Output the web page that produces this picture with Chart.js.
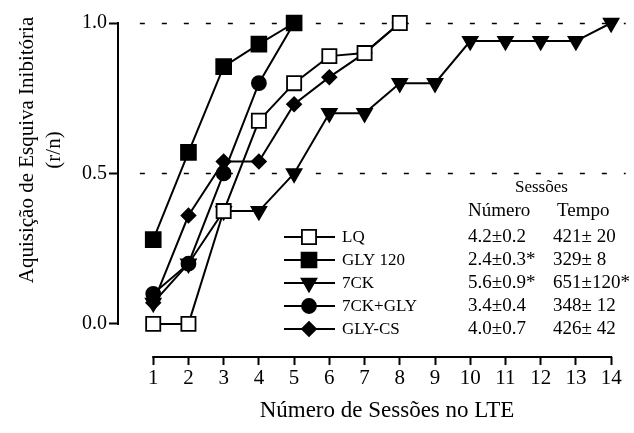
<!DOCTYPE html>
<html>
<head>
<meta charset="utf-8">
<title>Esquiva Inibitória</title>
<script src="https://cdn.jsdelivr.net/npm/chart.js@4.4.0/dist/chart.umd.min.js"></script>
<style>
  html, body { margin: 0; padding: 0; background: #fff; }
</style>
</head>
<body>
<canvas id="lte-chart" width="634" height="433"></canvas>
<script>
'use strict';

// ── Data ──────────────────────────────────────────────────────────────
const sessions = [1, 2, 3, 4, 5, 6, 7, 8, 9, 10, 11, 12, 13, 14];
const groups = ['LQ', 'GLY 120', '7CK', '7CK+GLY', 'GLY-CS'];
const lq     = [0, 0, 0.375, 0.675, 0.8, 0.89, 0.9, 1.0];
const gly120 = [0.28, 0.57, 0.855, 0.93, 1.0];
const ck7    = [0.07, 0.2, 0.375, 0.375, 0.5, 0.7, 0.7, 0.8, 0.8, 0.94, 0.94, 0.94, 0.94, 1.0];
const ck7gly = [0.1, 0.2, 0.5, 0.8, 1.0];
const glyCs  = [0.07, 0.36, 0.54, 0.54, 0.73, 0.82, 0.9, 1.0];
const yTicks = [0, 0.5, 1.0];
const refLines = [0.5, 1.0];
const numero = ['4.2±0.2', '2.4±0.3*', '5.6±0.9*', '3.4±0.4', '4.0±0.7'];
const tempo  = ['421± 20', '329± 8', '651±120*', '348± 12', '426± 42'];

const SERIF = '"Liberation Serif", "Times New Roman", Times, serif';
Chart.defaults.font.family = SERIF;
Chart.defaults.color = '#000';

const pts = arr => arr.map((v, i) => ({ x: sessions[i], y: v }));

// marker style per group, same order as groups[]
const markers = [
  { pointStyle: 'rect',     radius: 10,   fill: '#fff', rotation: 0,   order: 0 },
  { pointStyle: 'rect',     radius: 10.5, fill: '#000', rotation: 0,   order: 1 },
  { pointStyle: 'triangle', radius: 8.5,  fill: '#000', rotation: 180, order: 4 },
  { pointStyle: 'circle',   radius: 7,    fill: '#000', rotation: 0,   order: 2 },
  { pointStyle: 'rectRot',  radius: 7,    fill: '#000', rotation: 0,   order: 3 }
];
const series = [lq, gly120, ck7, ck7gly, glyCs];

const datasets = groups.map((g, i) => ({
  label: g,
  data: pts(series[i]),
  borderColor: '#000',
  borderWidth: 2,
  backgroundColor: markers[i].fill,
  pointStyle: markers[i].pointStyle,
  pointRadius: markers[i].radius,
  pointRotation: markers[i].rotation,
  pointBackgroundColor: markers[i].fill,
  pointBorderColor: '#000',
  pointBorderWidth: 1.8,
  order: markers[i].order,
  tension: 0,
  fill: false,
  clip: false
}));

// ── Axes lines, dashed references, titles, key and table ─────────────
const framePlugin = {
  id: 'frame',
  beforeDatasetsDraw(chart) {
    const { ctx, chartArea, scales: { x, y } } = chart;
    ctx.save();
    ctx.strokeStyle = '#000';
    ctx.lineWidth = 1.4;
    ctx.setLineDash([5, 17]);
    refLines.forEach(v => {
      const py = Math.round(y.getPixelForValue(v)) + 0.5;
      ctx.beginPath();
      ctx.moveTo(x.getPixelForValue(0.62), py);
      ctx.lineTo(chartArea.right + 4, py);
      ctx.stroke();
    });
    ctx.setLineDash([]);
    ctx.lineWidth = 2;
    // y axis only covers 0..1
    ctx.beginPath();
    ctx.moveTo(chartArea.left, y.getPixelForValue(yTicks[0]) + 1);
    ctx.lineTo(chartArea.left, y.getPixelForValue(yTicks[yTicks.length - 1]) - 1);
    ctx.stroke();
    // x axis only covers the session range
    ctx.beginPath();
    ctx.moveTo(x.getPixelForValue(sessions[0]) - 1, chartArea.bottom);
    ctx.lineTo(x.getPixelForValue(sessions[sessions.length - 1]) + 1, chartArea.bottom);
    ctx.stroke();
    ctx.restore();
  },
  afterDraw(chart) {
    const { ctx } = chart;
    const rows = [237, 260, 283, 306, 329];
    ctx.save();
    ctx.fillStyle = '#000';
    ctx.textBaseline = 'middle';

    // y title, two lines rotated
    ctx.save();
    ctx.translate(27, 150);
    ctx.rotate(-Math.PI / 2);
    ctx.textAlign = 'center';
    ctx.font = '21px ' + SERIF;
    ctx.fillText('Aquisição de Esquiva Inibitória', 0, 0);
    ctx.fillText('(r/n)', 0, 27);
    ctx.restore();

    // x title
    ctx.textAlign = 'center';
    ctx.font = '23px ' + SERIF;
    ctx.fillText('Número de Sessões no LTE', 387, 411);

    // key
    ctx.textAlign = 'left';
    ctx.font = '17px ' + SERIF;
    groups.forEach((g, i) => {
      const ry = rows[i];
      ctx.strokeStyle = '#000';
      ctx.lineWidth = 2;
      ctx.beginPath();
      ctx.moveTo(284, ry);
      ctx.lineTo(335, ry);
      ctx.stroke();
      ctx.fillStyle = markers[i].fill;
      ctx.lineWidth = 1.8;
      Chart.helpers.drawPoint(ctx, {
        pointStyle: markers[i].pointStyle,
        radius: markers[i].radius,
        rotation: markers[i].rotation,
        borderWidth: 1.8
      }, 309, ry);
      ctx.fillStyle = '#000';
      ctx.fillText(g, 342, ry + 1);
    });

    // sessions table
    ctx.font = '17px ' + SERIF;
    ctx.fillText('Sessões', 515, 188);
    ctx.font = '19px ' + SERIF;
    ctx.fillText('Número', 468, 211);
    ctx.fillText('Tempo', 557, 211);
    groups.forEach((g, i) => {
      ctx.fillText(numero[i], 468, rows[i]);
      ctx.fillText(tempo[i], 553, rows[i]);
    });
    ctx.restore();
  }
};

new Chart(document.getElementById('lte-chart'), {
  type: 'line',
  data: { datasets },
  options: {
    responsive: false,
    animation: false,
    layout: { padding: { top: 23, right: 11, left: 0, bottom: 0 } },
    plugins: { legend: { display: false }, tooltip: { enabled: false } },
    scales: {
      x: {
        type: 'linear', min: 0, max: 14.3,
        afterBuildTicks: s => { s.ticks = sessions.map(v => ({ value: v })); },
        afterFit: s => { s.height = 76; },
        ticks: { font: { size: 21 }, color: '#000', padding: 1, maxRotation: 0, autoSkip: false },
        grid: { drawOnChartArea: false, drawTicks: true, tickLength: 8, tickWidth: 2, tickColor: '#000' },
        border: { display: false }
      },
      y: {
        type: 'linear', min: -0.11, max: 1.0,
        afterBuildTicks: s => { s.ticks = yTicks.map(v => ({ value: v })); },
        afterFit: s => { s.width = 118; },
        ticks: { font: { size: 20 }, color: '#000', padding: 2, callback: v => v.toFixed(1) },
        grid: { drawOnChartArea: false, drawTicks: true, tickLength: 9, tickWidth: 2, tickColor: '#000' },
        border: { display: false }
      }
    }
  },
  plugins: [framePlugin]
});
</script>
</body>
</html>
